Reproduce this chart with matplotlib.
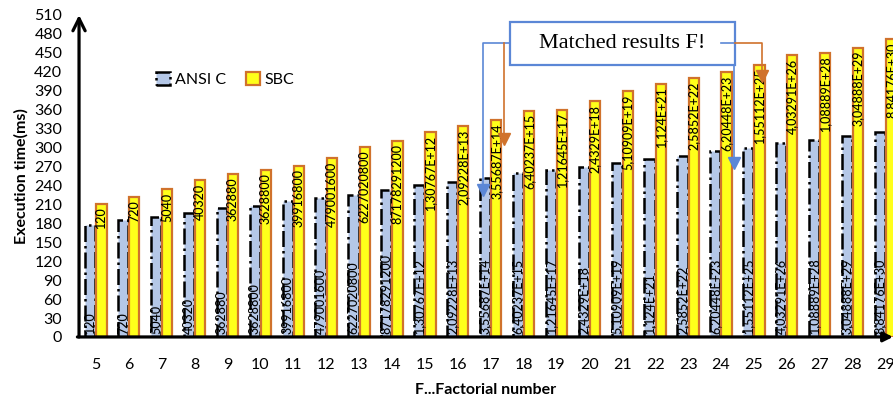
import numpy as np
import matplotlib.pyplot as plt
from matplotlib.patches import Rectangle

plt.rcParams['font.family'] = ['Lato', 'DejaVu Sans']

# data
factorial_n = list(range(5, 30))
ansi_c = [177, 185, 190, 197, 204, 208, 216, 220, 225, 233, 241, 245, 252,
          259, 265, 270, 275, 282, 287, 294, 300, 307, 312, 318, 324]
sbc = [210, 221, 234, 248, 258, 264, 271, 283, 301, 311, 324, 334, 343,
       358, 360, 373, 389, 401, 410, 419, 430, 446, 449, 458, 472]
fact_labels = ['120', '720', '5040', '40320', '362880', '3628800', '39916800',
               '479001600', '6227020800', '87178291200', '1,30767E+12',
               '2,09228E+13', '3,55687E+14', '6,40237E+15', '1,21645E+17',
               '2,4329E+18', '5,10909E+19', '1,124E+21', '2,5852E+22',
               '6,20448E+23', '1,55112E+25', '4,03291E+26', '1,08889E+28',
               '3,04888E+29', '8,84176E+30']

blue_fill = '#B4C7E7'
yellow = '#FFFF1A'
orange = '#D0722C'
note_blue = '#5B87D6'

fig = plt.figure(figsize=(8.93, 4.05), dpi=100)
ax = fig.add_axes([0.0885, 0.168, 0.9115, 0.795])

x = np.array(factorial_n)
w = 0.31
ax.bar(x - 0.17, ansi_c, w, color=blue_fill, edgecolor='black',
       linestyle='-.', linewidth=1.8, label='ANSI C')
ax.bar(x + 0.17, sbc, w, color=yellow, edgecolor=orange,
       linewidth=1.6, label='SBC')

for xi, a, s, lab in zip(x, ansi_c, sbc, fact_labels):
    ax.text(xi - 0.17, 4, lab, rotation=90, ha='center', va='bottom',
            fontsize=9, fontweight='medium', clip_on=True)
    ax.text(xi + 0.17, s - 5, lab, rotation=90, ha='center', va='top',
            fontsize=9, fontweight='medium', clip_on=True)

ax.set_xlim(4.49, 29.23)
ax.set_ylim(0, 510)
ax.set_yticks(np.arange(0, 511, 30))
ax.set_xticks(x)
ax.tick_params(axis='both', length=0, labelsize=11.5)
ax.tick_params(axis='y', pad=12)
ax.tick_params(axis='x', pad=15)

for sp in ax.spines.values():
    sp.set_visible(False)
ax.annotate('', xy=(0, 1.0), xytext=(0, 0), xycoords='axes fraction',
            arrowprops=dict(arrowstyle='->', lw=2.3, color='black',
                            mutation_scale=22, shrinkA=0, shrinkB=0))
ax.annotate('', xy=(1.0, 0), xytext=(-0.002, 0), xycoords='axes fraction',
            arrowprops=dict(arrowstyle='-|>', lw=2.3, color='black',
                            mutation_scale=14, shrinkA=0, shrinkB=0))

ax.set_ylabel('Execution time(ms)', fontsize=11.5, fontweight='bold', labelpad=4)
ax.set_xlabel('F...Factorial number', fontsize=11.5, fontweight='bold', labelpad=8)

ax.legend(loc='center left', bbox_to_anchor=(0.077, 0.80), ncol=2,
          frameon=False, fontsize=11.5, handlelength=0.9, handleheight=0.9,
          handletextpad=0.3, columnspacing=1.2)

# "Matched results F!" call-out
ax.add_patch(Rectangle((17.6, 431), 6.83, 68, fill=False, edgecolor=note_blue,
                       linewidth=1.6, clip_on=False, zorder=5))
ax.text(21.0, 465, 'Matched results F!', ha='center', va='center',
        fontsize=16, family='Liberation Serif', zorder=6)

ax.plot([17.6, 16.76, 16.76], [465, 465, 238], color=note_blue, lw=1.2,
        clip_on=False, zorder=6)
ax.plot([16.76], [232], marker='v', ms=9, color=note_blue, clip_on=False, zorder=6)
ax.plot([17.40, 17.40], [465, 318], color=orange, lw=1.2, clip_on=False, zorder=6)
ax.plot([17.40], [313], marker='v', ms=9, color=orange, clip_on=False, zorder=6)

ax.plot([24.0, 24.43], [465, 465], color=note_blue, lw=1.2, clip_on=False, zorder=6)
ax.plot([24.43, 25.25, 25.25], [465, 465, 418], color=orange, lw=1.2,
        clip_on=False, zorder=6)
ax.plot([25.25], [413], marker='v', ms=9, color=orange, clip_on=False, zorder=6)
ax.plot([24.40, 24.40], [431, 282], color=note_blue, lw=1.2, clip_on=False, zorder=6)
ax.plot([24.40], [276], marker='v', ms=9, color=note_blue, clip_on=False, zorder=6)

fig.savefig('out.png', dpi=100)
